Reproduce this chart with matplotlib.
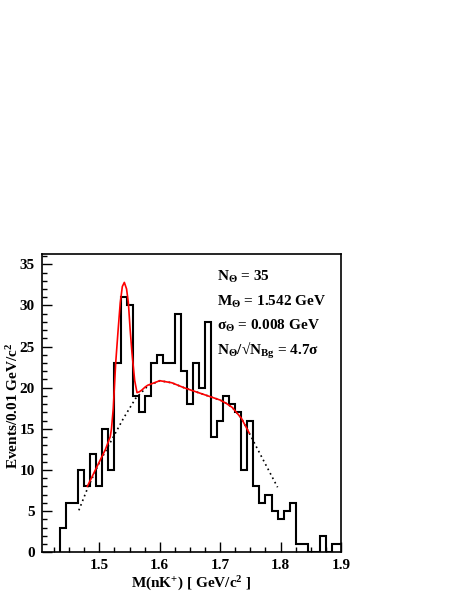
import numpy as np
import matplotlib
matplotlib.use("Agg")
import matplotlib.pyplot as plt
from matplotlib.ticker import MultipleLocator

plt.rcParams['font.family'] = ['Liberation Serif', 'DejaVu Serif']
plt.rcParams['font.weight'] = 'bold'
plt.rcParams['mathtext.fontset'] = 'custom'
plt.rcParams['mathtext.rm'] = 'Liberation Serif:bold'
plt.rcParams['mathtext.it'] = 'Liberation Serif:bold'
plt.rcParams['mathtext.bf'] = 'Liberation Serif:bold'

# histogram, 0.01 GeV bins starting at 1.435
bin_start = 1.435
bin_width = 0.01
counts = [3, 6, 6, 10, 8, 12, 8, 15, 10, 23,
          31, 30, 19, 17, 19, 23, 24, 23, 23, 29,
          22, 18, 23, 20, 28, 14, 16, 19, 18, 17,
          10, 16, 8, 6, 7, 5, 4, 5, 6, 1,
          1, 0, 0, 2, 0, 1, 1]

# background (dotted), points
bg_x = [1.466, 1.48, 1.50, 1.52, 1.54, 1.56, 1.58, 1.60, 1.62, 1.64,
        1.66, 1.68, 1.70, 1.71, 1.72, 1.735, 1.748, 1.76, 1.77, 1.78, 1.795]
bg_y = [5.1, 7.7, 10.9, 13.6, 16.3, 18.7, 20.2, 20.85, 20.6, 20.0,
        19.5, 19.0, 18.5, 18.1, 17.6, 16.3, 14.5, 12.8, 11.4, 10.0, 7.9]

# total fit (red)
fit_x = [1.48, 1.49, 1.50, 1.51, 1.518, 1.52, 1.523, 1.527, 1.531, 1.5345,
         1.538, 1.5413, 1.545, 1.548, 1.551, 1.554, 1.5584, 1.5623, 1.566,
         1.57, 1.576, 1.58, 1.60, 1.62, 1.64, 1.66, 1.68, 1.70, 1.71, 1.72,
         1.735, 1.748]
fit_y = [8.0, 9.5, 11.0, 12.5, 14.05, 15.0, 17.5, 23.0, 27.0, 30.3,
         32.3, 32.8, 32.0, 30.3, 27.0, 24.2, 20.9, 19.4, 19.5,
         19.7, 20.1, 20.3, 20.85, 20.6, 20.0, 19.5, 19.0, 18.5, 18.1, 17.6,
         16.3, 14.5]

labels = [r'N$_{\Theta}$ = 35',
          r'M$_{\Theta}$ = 1.542 GeV',
          r'$\sigma_{\Theta}$ = 0.008 GeV',
          'N$_{\\Theta}$/\u221aN$_{\\mathrm{Bg}}$ = 4.7$\\sigma$']

fig = plt.figure(figsize=(4.6, 5.95), dpi=100)
ax = fig.add_axes([0.0913, 0.0718, 0.65, 0.5013])

edges = bin_start + bin_width * np.arange(len(counts) + 1)
ax.stairs(counts, edges, color='black', lw=1.5, baseline=0, clip_on=True)
ax.plot(bg_x, bg_y, color='black', lw=1.2, linestyle=(0, (1, 2)))
ax.plot(fit_x, fit_y, color='red', lw=1.2)

ax.set_xlim(1.405, 1.9)
ax.set_ylim(0, 36.25)
ax.xaxis.set_major_locator(MultipleLocator(0.1))
ax.xaxis.set_minor_locator(MultipleLocator(0.025))
ax.yaxis.set_major_locator(MultipleLocator(5))
ax.yaxis.set_minor_locator(MultipleLocator(1))
ax.tick_params(which='both', direction='in', top=False, right=False,
               labelsize=11)
ax.tick_params(which='major', length=7, width=1)
ax.tick_params(which='minor', length=3.5, width=1)
ax.tick_params(axis='y', pad=5)
ax.tick_params(axis='x', pad=5)
for s in ax.spines.values():
    s.set_linewidth(1.2)
for lab in ax.get_xticklabels() + ax.get_yticklabels():
    lab.set_fontweight('bold')

ax.set_xlabel(r'M(nK$^{+}$) [ GeV/c$^{2}$ ]', fontsize=11, fontweight='bold',
              labelpad=2)
ax.set_ylabel(r'Events/0.01 GeV/c$^{2}$', fontsize=11, fontweight='bold')
ax.yaxis.set_label_coords(-21 / 299, 0.49)

for i, t in enumerate(labels):
    fig.text(217 / 460, 1 - (277 + 24.5 * i) / 595, t, ha='left',
             va='center', fontsize=11, fontweight='bold')

fig.savefig('out.png', dpi=100)
